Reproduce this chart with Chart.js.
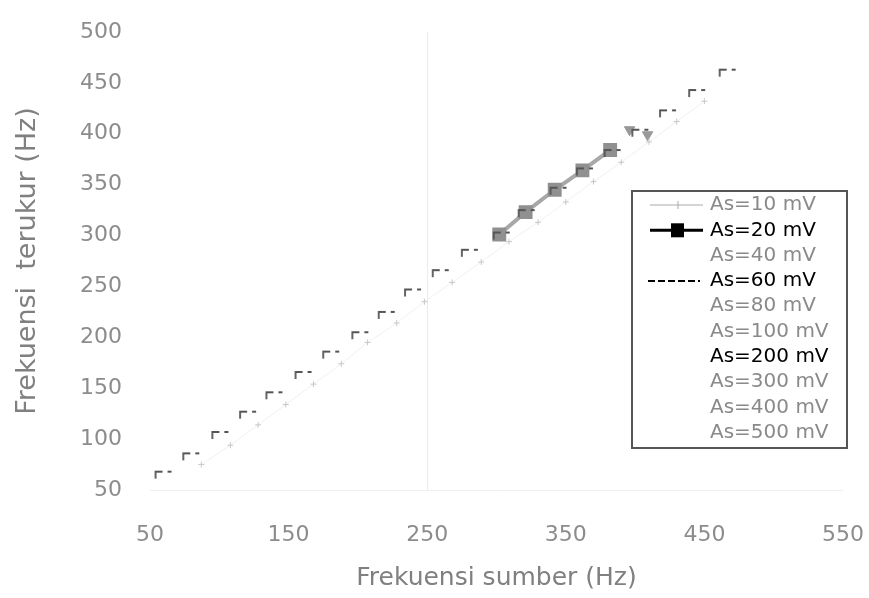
<!DOCTYPE html>
<html>
<head>
<meta charset="utf-8">
<script src="https://cdn.jsdelivr.net/npm/chart.js@4.4.0/dist/chart.umd.min.js"></script>
<style>
  html, body { margin: 0; padding: 0; background: #fff; }
</style>
</head>
<body>
<canvas id="freqChart" width="869" height="598"></canvas>
<script>
const legendLabels = ['As=10 mV', 'As=20 mV', 'As=40 mV', 'As=60 mV', 'As=80 mV',
  'As=100 mV', 'As=200 mV', 'As=300 mV', 'As=400 mV', 'As=500 mV'];
const xTicks = [50, 150, 250, 350, 450, 550];
const yTicks = [50, 100, 150, 200, 250, 300, 350, 400, 450, 500];

// staircase corners (As=60 mV)
const src60 = [54, 74, 95, 115, 134, 155, 175, 196, 215, 234, 254, 275, 298, 316, 339, 358, 378, 398, 418, 439, 461];
const meas60 = [68, 86, 107, 127, 146, 166, 186, 205, 225, 247, 266, 286, 303, 325, 347, 366, 384, 404, 423, 443, 463];

// As=20 mV, only readable near the top
const src20 = [302, 321, 342, 362, 382];
const meas20 = [301, 323, 345, 364, 384];

// As=40 mV triangles
const src40 = [396, 409];
const meas40 = [404, 399];

// As=10 mV faint crosses
const src10 = [87, 108, 128, 148, 168, 188, 207, 228, 248, 268, 289, 309, 330, 350, 370, 390, 410, 430, 450];
const meas10 = [75, 94, 114, 134, 154, 174, 195, 214, 235, 254, 274, 294, 313, 333, 353, 372, 392, 412, 432];

const toPts = (xs, ys) => xs.map((x, i) => ({ x: x, y: ys[i] }));

// little "r -" mark seen at every step of the scan
function stepGlyph() {
  const c = document.createElement('canvas');
  c.width = 40; c.height = 20;
  const g = c.getContext('2d');
  g.strokeStyle = '#555';
  g.lineWidth = 1.8;
  g.beginPath();
  g.moveTo(20, 17); g.lineTo(20, 10); g.lineTo(27, 10);
  g.moveTo(32, 10); g.lineTo(36, 10);
  g.stroke();
  return c;
}

const labelFont = 'DejaVu Sans';

// legend drawn inside the plot, like the original
const boxLegend = {
  id: 'boxLegend',
  afterDraw(chart) {
    const ctx = chart.ctx;
    const x0 = 632, y0 = 191, w = 215, h = 257;
    ctx.save();
    ctx.fillStyle = '#fff';
    ctx.fillRect(x0, y0, w, h);
    ctx.strokeStyle = '#555';
    ctx.lineWidth = 2;
    ctx.strokeRect(x0, y0, w, h);
    ctx.font = '20px ' + labelFont;
    ctx.textBaseline = 'middle';
    legendLabels.forEach((txt, i) => {
      const y = 205 + i * 25.3;
      if (i === 0) {
        ctx.strokeStyle = '#aaa'; ctx.lineWidth = 1;
        ctx.beginPath(); ctx.moveTo(650, y); ctx.lineTo(703, y);
        ctx.moveTo(678, y - 4); ctx.lineTo(678, y + 4); ctx.stroke();
      } else if (i === 1) {
        ctx.strokeStyle = '#000'; ctx.lineWidth = 3;
        ctx.beginPath(); ctx.moveTo(650, y); ctx.lineTo(703, y); ctx.stroke();
        ctx.fillStyle = '#000'; ctx.fillRect(671, y - 7, 13, 14);
      } else if (i === 3) {
        ctx.strokeStyle = '#000'; ctx.lineWidth = 2;
        ctx.setLineDash([7, 3]);
        ctx.beginPath(); ctx.moveTo(648, y); ctx.lineTo(700, y); ctx.stroke();
        ctx.setLineDash([]);
      }
      ctx.fillStyle = (i === 1 || i === 3 || i === 6) ? '#000' : '#8a8a8a';
      ctx.fillText(txt, 710, y);
    });
    ctx.restore();
  }
};

new Chart(document.getElementById('freqChart'), {
  type: 'scatter',
  data: {
    datasets: [
      {
        label: legendLabels[0],
        data: toPts(src10, meas10),
        showLine: true,
        borderColor: '#f0f0f0',
        borderWidth: 1,
        pointStyle: 'cross',
        pointRadius: 3,
        pointBorderColor: '#c8c8c8',
        pointBorderWidth: 1
      },
      {
        label: legendLabels[3],
        data: toPts(src60, meas60),
        showLine: false,
        pointStyle: stepGlyph(),
        pointRadius: 4
      },
      {
        label: legendLabels[1],
        data: toPts(src20, meas20),
        showLine: true,
        borderColor: '#a8a8a8',
        borderWidth: 4,
        pointStyle: 'rect',
        pointRadius: 7,
        pointBackgroundColor: '#909090',
        pointBorderColor: '#909090'
      },
      {
        label: legendLabels[2],
        data: toPts(src40, meas40),
        showLine: false,
        pointStyle: 'triangle',
        rotation: 180,
        pointRadius: 6,
        pointBackgroundColor: '#999',
        pointBorderColor: '#999'
      }
    ]
  },
  options: {
    responsive: false,
    animation: false,
    layout: { padding: { left: 0, right: 26, top: 32, bottom: 0 } },
    plugins: {
      legend: { display: false },
      tooltip: { enabled: false }
    },
    scales: {
      x: {
        type: 'linear',
        min: 50,
        max: 550,
        afterBuildTicks: s => { s.ticks = xTicks.map(v => ({ value: v })); },
        afterFit: s => { s.height = 108; s.paddingLeft = 0; s.paddingRight = 0; },
        border: { display: false },
        grid: {
          drawTicks: false,
          color: c => (c.tick && c.tick.value === 250) ? '#ebebeb' : 'rgba(0,0,0,0)'
        },
        ticks: { padding: 32, color: '#8c8c8c', font: { family: labelFont, size: 22 } },
        title: {
          display: true,
          text: 'Frekuensi sumber (Hz)',
          color: '#808080',
          font: { family: labelFont, size: 25 },
          padding: { top: 0, bottom: 5 }
        }
      },
      y: {
        type: 'linear',
        min: 50,
        max: 500,
        afterBuildTicks: s => { s.ticks = yTicks.map(v => ({ value: v })); },
        afterFit: s => { s.width = 150; s.paddingTop = 0; s.paddingBottom = 0; },
        border: { display: false },
        grid: {
          drawTicks: false,
          color: c => (c.tick && c.tick.value === 50) ? '#efefef' : 'rgba(0,0,0,0)'
        },
        ticks: { padding: 28, color: '#8c8c8c', font: { family: labelFont, size: 22 } },
        title: {
          display: true,
          text: 'Frekuensi  terukur (Hz)',
          color: '#808080',
          font: { family: labelFont, size: 27 },
          padding: { top: 12, bottom: 0 }
        }
      }
    }
  },
  plugins: [boxLegend]
});
</script>
</body>
</html>
